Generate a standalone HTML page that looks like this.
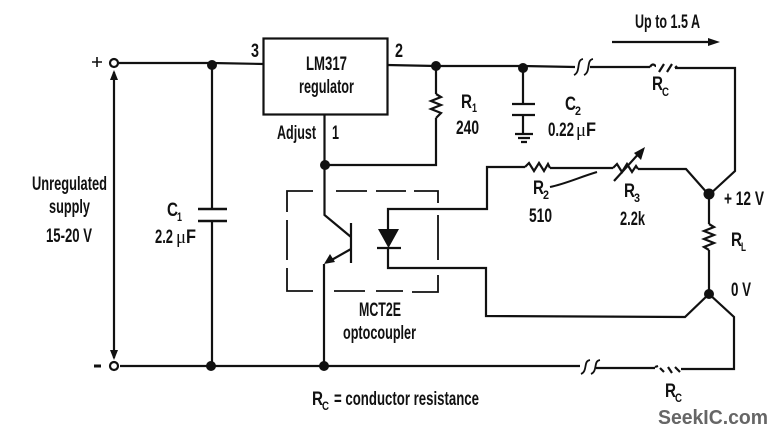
<!DOCTYPE html>
<html><head><meta charset="utf-8"><style>
html,body{margin:0;padding:0;background:#fff}
svg{display:block}
text{font-family:"Liberation Sans",sans-serif;font-weight:bold;fill:#111;font-size:19px}
.s{font-size:12px}
.m{font-weight:normal;font-family:"Liberation Serif",serif}
</style></head><body>
<svg width="778" height="434" viewBox="0 0 778 434" xmlns="http://www.w3.org/2000/svg">
<g fill="none" stroke="#111" stroke-width="2.200">
<path d="M118 63H212L264 64"/>
<rect x="263.500" y="38.500" width="124" height="76"/>
<path d="M387 65L436 66H523L575 67"/>
<path d="M590 67H650M675 68H735V171L709 195M324.500 114V215L351 237M351 223V263M351 249L328 262M324 264V366"/>
<path d="M436 66V94M436 118V165H325"/>
<path d="M212 65V209M212 221V366"/>
<path d="M198 209H227M198 221H227" stroke-width="2.500"/>
<path d="M523 68V104M512 104H535M512 115H535M523 115V134M515 134H533M518 138H530M521 142H527"/>
<path d="M114 72V358"/>
<path d="M120 366H580M596 368H655M681 369H734V317L709 294L685 317L486 316V268H388V248M377 248H401M388 229V209H487V167H525M550 168H613M638 169H686L709 195V224M709 250V294"/>
<path d="M436 94L441 97L431 101L441 105L431 109L441 113L436 118"/>
<path d="M525 167L529 163L534 171L539 163L544 171L548 164L550 168"/>
<path d="M613 168L617 164L622 172L627 164L632 172L636 166L638 169"/>
<path d="M709 224L714 227L704 231L714 235L704 239L714 243L704 247L709 250"/>
<path d="M650 67C653 62 655 66 656 66M659 72L664 64M667 72L672 64M675 68L677 66"/>
<path d="M655 367L658 366M660 368L664 372M668 367L672 373M675 367L680 372"/>
<path d="M574 75C581 72 576 60 583 59M584 75C591 72 586 60 593 59" stroke-width="1.800"/>
<path d="M581 374C588 371 583 361 590 360M591 374C598 371 593 361 600 360" stroke-width="1.800"/>
<path d="M550 187C565 184 580 177 597 172" stroke-width="2"/>
<path d="M614 181L642 150"/>
<path d="M612 42H712"/>
<path d="M287 212V191H313M336 191H367M376 191H406M414 191H438V203M438 215V260M438 275V292H412M403 291H376M365 291H334M313 291H287V268M287 260V220" stroke-width="1.800"/>
<path d="M92 62H102M97 57V67" stroke-width="1.600"/>
<path d="M94 366H101" stroke-width="3"/>
</g>
<circle cx="114" cy="63" r="4" fill="#fff" stroke="#111" stroke-width="2.200"/>
<circle cx="114" cy="366" r="4" fill="#fff" stroke="#111" stroke-width="2.200"/>
<g fill="#111">
<circle cx="212" cy="65" r="5"/><circle cx="436" cy="66" r="5"/><circle cx="523" cy="68" r="5"/>
<circle cx="325" cy="165" r="5"/><circle cx="709" cy="194" r="5.500"/><circle cx="709" cy="294" r="5"/>
<circle cx="211" cy="366" r="5"/><circle cx="324" cy="366" r="5"/>
<path d="M378 229H399L388.500 248Z"/>
<path d="M114 70L110 80H118Z"/><path d="M114 360L110 350H118Z"/>
<path d="M720 42L708 38V46Z"/>
<path d="M645 147L634 153L641 160Z"/>
<path d="M324 264L335 262L330 254Z"/>
</g>
<text x="251" y="57" textLength="8" lengthAdjust="spacingAndGlyphs">3</text>
<text x="395" y="57" textLength="8" lengthAdjust="spacingAndGlyphs">2</text>
<text x="306" y="70" textLength="41" lengthAdjust="spacingAndGlyphs">LM317</text>
<text x="299" y="93" textLength="55" lengthAdjust="spacingAndGlyphs">regulator</text>
<text x="277" y="139" textLength="39" lengthAdjust="spacingAndGlyphs">Adjust</text>
<text x="332" y="139" textLength="7" lengthAdjust="spacingAndGlyphs">1</text>
<text x="32" y="190" textLength="75" lengthAdjust="spacingAndGlyphs">Unregulated</text>
<text x="49" y="213" textLength="41" lengthAdjust="spacingAndGlyphs">supply</text>
<text x="46" y="242" textLength="46" lengthAdjust="spacingAndGlyphs">15-20 V</text>
<text x="167" y="216" textLength="11" lengthAdjust="spacingAndGlyphs">C</text><text class="s" x="177" y="221" textLength="5" lengthAdjust="spacingAndGlyphs">1</text>
<text x="155" y="243" textLength="18" lengthAdjust="spacingAndGlyphs">2.2</text>
<text x="176" y="243" class="m" textLength="10" lengthAdjust="spacingAndGlyphs">μ</text><text x="186" y="243" textLength="10" lengthAdjust="spacingAndGlyphs">F</text>
<text x="461" y="108" textLength="11" lengthAdjust="spacingAndGlyphs">R</text><text class="s" x="472" y="112" textLength="5" lengthAdjust="spacingAndGlyphs">1</text>
<text x="456" y="134" textLength="23" lengthAdjust="spacingAndGlyphs">240</text>
<text x="565" y="110" textLength="11" lengthAdjust="spacingAndGlyphs">C</text><text class="s" x="575" y="115" textLength="6" lengthAdjust="spacingAndGlyphs">2</text>
<text x="548" y="136" textLength="26" lengthAdjust="spacingAndGlyphs">0.22</text>
<text x="576" y="136" class="m" textLength="10" lengthAdjust="spacingAndGlyphs">μ</text><text x="586" y="136" textLength="10" lengthAdjust="spacingAndGlyphs">F</text>
<text x="635" y="28" textLength="65" lengthAdjust="spacingAndGlyphs">Up to 1.5 A</text>
<text x="652" y="90" textLength="11" lengthAdjust="spacingAndGlyphs">R</text><text class="s" x="662" y="96" textLength="7" lengthAdjust="spacingAndGlyphs">C</text>
<text x="533" y="194" textLength="11" lengthAdjust="spacingAndGlyphs">R</text><text class="s" x="543" y="199" textLength="6" lengthAdjust="spacingAndGlyphs">2</text>
<text x="529" y="222" textLength="23" lengthAdjust="spacingAndGlyphs">510</text>
<text x="624" y="197" textLength="11" lengthAdjust="spacingAndGlyphs">R</text><text class="s" x="634" y="202" textLength="6" lengthAdjust="spacingAndGlyphs">3</text>
<text x="620" y="225" textLength="25" lengthAdjust="spacingAndGlyphs">2.2k</text>
<text x="724" y="205" textLength="40" lengthAdjust="spacingAndGlyphs">+ 12 V</text>
<text x="731" y="246" textLength="11" lengthAdjust="spacingAndGlyphs">R</text><text class="s" x="741" y="251" textLength="5" lengthAdjust="spacingAndGlyphs">L</text>
<text x="731" y="296" textLength="20" lengthAdjust="spacingAndGlyphs">0 V</text>
<text x="359" y="316" textLength="42" lengthAdjust="spacingAndGlyphs">MCT2E</text>
<text x="343" y="339" textLength="73" lengthAdjust="spacingAndGlyphs">optocoupler</text>
<text x="665" y="397" textLength="11" lengthAdjust="spacingAndGlyphs">R</text><text class="s" x="675" y="402" textLength="7" lengthAdjust="spacingAndGlyphs">C</text>
<text x="312" y="405" textLength="11" lengthAdjust="spacingAndGlyphs">R</text><text class="s" x="322" y="410" textLength="7" lengthAdjust="spacingAndGlyphs">C</text>
<text x="334" y="405" textLength="145" lengthAdjust="spacingAndGlyphs">= conductor resistance</text>
<text x="658" y="424" textLength="110" lengthAdjust="spacingAndGlyphs" style="font-size:20px;fill:#666">SeekIC.com</text>
</svg>
</body></html>
